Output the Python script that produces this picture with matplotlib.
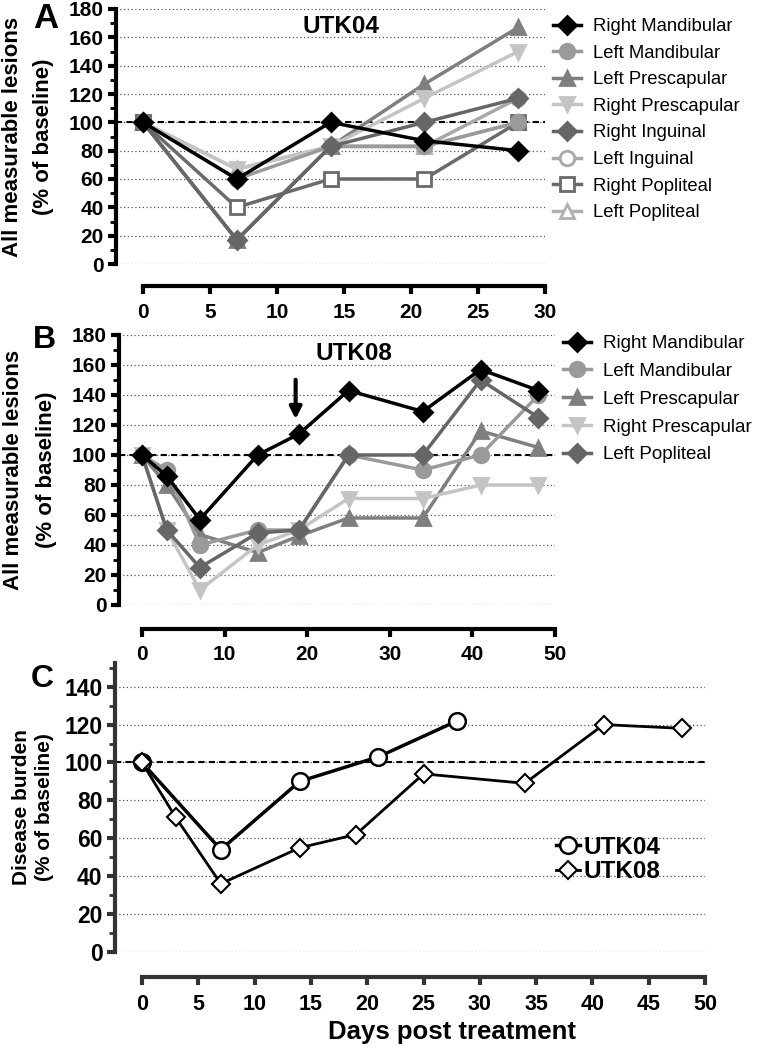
import matplotlib
matplotlib.use("Agg")
import matplotlib.pyplot as plt
from matplotlib.ticker import MultipleLocator

plt.rcParams['font.family'] = ['Liberation Sans', 'DejaVu Sans']

# ---- data ----
days_a = [0, 7, 14, 21, 28]
lesions_a = {
    "Right Mandibular": [100, 60, 100, 87, 80],
    "Left Mandibular": [100, 60, 83, 83, 100],
    "Left Prescapular": [100, 17, 83, 127, 167],
    "Right Prescapular": [100, 67, 83, 117, 150],
    "Right Inguinal": [100, 17, 83, 100, 117],
    "Left Inguinal": [100, 17, 83, 83, 117],
    "Right Popliteal": [100, 40, 60, 60, 100],
    "Left Popliteal": [100, 67, 83, 83, 100],
}

days_b = [0, 3, 7, 14, 19, 25, 34, 41, 48]
lesions_b = {
    "Right Mandibular": [100, 86, 57, 100, 114, 143, 129, 157, 143],
    "Left Mandibular": [100, 90, 40, 50, 50, 100, 90, 100, 140],
    "Left Prescapular": [100, 80, 47, 35, 46, 58, 58, 116, 105],
    "Right Prescapular": [100, 50, 10, 40, 50, 71, 71, 80, 80],
    "Left Popliteal": [100, 50, 25, 48, 50, 100, 100, 150, 125],
}

days_utk04 = [0, 7, 14, 21, 28]
burden_utk04 = [100, 54, 90, 103, 122]
days_utk08 = [0, 3, 7, 14, 19, 25, 34, 41, 48]
burden_utk08 = [100, 71, 36, 55, 62, 94, 89, 120, 118]

# marker styles: (color, marker, filled, zorder)
styles = {
    "Right Mandibular": ("#000000", "D", True, 6),
    "Left Mandibular": ("#9a9a9a", "o", True, 3.5),
    "Left Prescapular": ("#7f7f7f", "^", True, 3),
    "Right Prescapular": ("#c4c4c4", "v", True, 3),
    "Right Inguinal": ("#666666", "D", True, 4),
    "Left Inguinal": ("#a8a8a8", "o", False, 2.5),
    "Right Popliteal": ("#6a6a6a", "s", False, 3),
    "Left Popliteal": ("#b0b0b0", "^", False, 2.5),
}
styles_b = dict(styles)
styles_b["Left Popliteal"] = ("#666666", "D", True, 4)

W, H = 758, 1050
fig = plt.figure(figsize=(W / 100, H / 100), dpi=100)


def px_axes(left, top, right, bottom):
    return fig.add_axes([left / W, 1 - bottom / H, (right - left) / W, (bottom - top) / H])


def style_axes(ax, ymax, xmin, xmax, xstep, offset, spine_color="black", ysize=15, xsize=15):
    ax.set_ylim(0, ymax)
    ax.set_xlim(xmin, xmax)
    for s in ["top", "right"]:
        ax.spines[s].set_visible(False)
    ax.spines["left"].set_linewidth(3)
    ax.spines["bottom"].set_linewidth(3)
    ax.spines["left"].set_color(spine_color)
    ax.spines["bottom"].set_color(spine_color)
    ax.spines["bottom"].set_position(("outward", offset))
    ax.spines["bottom"].set_bounds(0, xmax)
    ax.xaxis.set_major_locator(MultipleLocator(xstep))
    ax.yaxis.set_major_locator(MultipleLocator(20))
    ax.yaxis.set_minor_locator(MultipleLocator(10))
    ax.tick_params(axis="both", which="major", length=6, width=3, color=spine_color, pad=3)
    ax.tick_params(axis="y", which="major", labelsize=ysize)
    ax.tick_params(axis="x", which="major", labelsize=xsize, pad=6)
    ax.tick_params(axis="y", which="minor", length=4, width=2, color=spine_color)
    ax.tick_params(axis="x", which="minor", length=0)
    ax.yaxis.grid(True, which="major", linestyle=(0, (1, 2)), color="#555555", linewidth=0.9)
    ax.set_axisbelow(True)
    ax.axhline(100, color="black", linestyle=(0, (3, 2)), linewidth=1.5, zorder=1.5)


def bold_ticks(ax):
    for lab in ax.get_xticklabels() + ax.get_yticklabels():
        lab.set_fontweight("bold")


def two_line_ylabel(ax, line1, line2, x1, x2, size):
    # each line as its own rotated text, like the original layout
    for txt, x in [(line1, x1), (line2, x2)]:
        ax.text(x, 0.5, txt, transform=ax.transAxes, rotation=90, ha="center", va="center",
                fontsize=size, fontweight="bold")


def plot_series(ax, days, data, sty, ms=10.5):
    for name, vals in data.items():
        c, m, filled, z = sty[name]
        ax.plot(days, vals, color=c, marker=m, markersize=ms if m != "D" else ms * 0.9,
                markerfacecolor=c if filled else "white", markeredgecolor=c,
                markeredgewidth=2, linewidth=2.5, label=name, clip_on=False, zorder=z)


# ---- Panel A ----
axA = px_axes(116, 9, 545, 264)
plot_series(axA, days_a, lesions_a, styles)
style_axes(axA, 180, -27 / 13.4, 30, 5, 16)
bold_ticks(axA)
axA.text(0.524, 0.93, "UTK04", transform=axA.transAxes, ha="center", va="center",
         fontsize=17.5, fontweight="bold")
two_line_ylabel(axA, "All measurable lesions", "(% of baseline)", -0.242, -0.170, 16)
fig.text(33 / W, 1 - 2 / H, "A", fontsize=25, fontweight="bold", va="top")
axA.legend(loc="upper left", bbox_to_anchor=(553 / W, 1 - 18 / H), bbox_transform=fig.transFigure,
           frameon=False, fontsize=13.3, handlelength=1.5, labelspacing=0.52, handletextpad=0.65,
           borderaxespad=0, borderpad=0)

# ---- Panel B ----
axB = px_axes(119, 335, 555, 605)
plot_series(axB, days_b, lesions_b, styles_b)
style_axes(axB, 180, -23 / 8.26, 50, 10, 17)
bold_ticks(axB)
axB.text(0.539, 0.93, "UTK08", transform=axB.transAxes, ha="center", va="center",
         fontsize=17.5, fontweight="bold")
axB.annotate("", xy=(18.6, 122), xytext=(18.6, 152),
             arrowprops=dict(arrowstyle="-|>,head_width=0.35,head_length=0.7", color="black", lw=3))
two_line_ylabel(axB, "All measurable lesions", "(% of baseline)", -0.243, -0.167, 16)
fig.text(33 / W, 1 - 325 / H, "B", fontsize=23, fontweight="bold", va="top")
axB.legend(loc="upper left", bbox_to_anchor=(563 / W, 1 - 335 / H), bbox_transform=fig.transFigure,
           frameon=False, fontsize=13.5, handlelength=1.5, labelspacing=0.57, handletextpad=0.65,
           borderaxespad=0, borderpad=0)

# ---- Panel C ----
axC = px_axes(115, 663, 705, 952)
axC.plot(days_utk04, burden_utk04, color="black", marker="o", markersize=12,
         markerfacecolor="white", markeredgewidth=1.8, linewidth=2.5, label="UTK04",
         clip_on=False, zorder=3)
axC.plot(days_utk08, burden_utk08, color="black", marker="D", markersize=9.5,
         markerfacecolor="white", markeredgewidth=1.5, linewidth=2, label="UTK08",
         clip_on=False, zorder=3)
style_axes(axC, 152.5, -27 / 11.26, 50, 5, 18, spine_color="#333333", ysize=16.5, xsize=15.5)
axC.set_yticks(range(0, 141, 20))
bold_ticks(axC)
two_line_ylabel(axC, "Disease burden", "(% of baseline)", -0.158, -0.119, 15)
axC.set_xlabel("Days post treatment", fontsize=18.5, fontweight="bold")
axC.xaxis.set_label_coords(0.571, -0.235)
fig.text(31 / W, 1 - 664 / H, "C", fontsize=23, fontweight="bold", va="top")
leg = axC.legend(loc="upper left", bbox_to_anchor=(556 / W, 1 - 836 / H), bbox_transform=fig.transFigure,
                 frameon=False, fontsize=17.5, handlelength=1.0, labelspacing=0.05, handletextpad=0.15,
                 borderaxespad=0, borderpad=0)
for t in leg.get_texts():
    t.set_fontweight("bold")

fig.savefig("out.png", dpi=100)
